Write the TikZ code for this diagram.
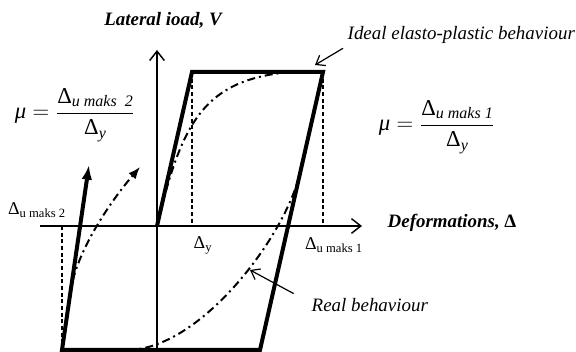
\documentclass[tikz,border=0pt]{standalone}
\usepackage{amsmath}
\usepackage{fontspec}
\setmainfont{Liberation Serif}
\usetikzlibrary{positioning,arrows.meta}
\tikzset{
  axis/.style={line width=1.1pt,-{Straight Barb[length=7pt,width=11pt]}},
  ideal/.style={line width=3pt,line join=miter},
  guide/.style={dash pattern=on 3pt off 2pt,line width=0.9pt},
  realpath/.style={line width=1.5pt,dash pattern=on 6pt off 3pt on 1.5pt off 3pt},
  pointer/.style={line width=0.9pt,-{Straight Barb[length=6pt,width=9pt]}},
  lbl/.style={font=\fontsize{14.2}{17}\selectfont\itshape},
  boldlbl/.style={font=\fontsize{14.2}{17}\selectfont\bfseries\itshape},
  dlbl/.style={font=\fontsize{13.5}{16}\selectfont},
  mulbl/.style={font=\fontsize{17}{20}\selectfont},
}
\newcommand{\musub}[1]{\text{\fontsize{12}{14}\selectfont\itshape #1}}

\begin{document}
\begin{tikzpicture}[x=0.75pt,y=0.75pt]
  \useasboundingbox (0,0) rectangle (576,352);
  % corners of the ideal loop
  \coordinate (o) at (157,126);
  \coordinate (ya) at (192,280);
  \coordinate (yb) at (323,280);
  \coordinate (ub) at (260,2);
  \coordinate (ua) at (62,2);
  \coordinate (ue) at (89,187);
  % axes
  \coordinate (hstart) at (40,126);
  \coordinate (hend) at (362,126);
  \coordinate (vstart) at (157,0);
  \coordinate (vend) at (157,302);
  \draw[axis] (hstart) -- (hend);
  \draw[axis] (vstart) -- (vend);
  % projections
  \draw[guide] (ya) -- (ya |- o);
  \draw[guide] (yb) -- (yb |- o);
  \draw[guide] (ua) -- (ua |- o);
  % ideal elasto-plastic loop
  \draw[ideal,-{Latex[length=11pt,width=8pt]}] (o) -- (ya) -- (yb) -- (ub) -- (ua) -- (ue);
  % real behaviour
  \draw[realpath,-{Latex[length=9pt,width=7pt]}] (o) .. controls (182,232) and (205,272) .. (290,280)
    -- (yb) -- (300,179) .. controls (285,115) and (200,2) .. (127,2)
    -- (ua) -- (70.5,60) .. controls (76,100) and (110,150) .. (140,185);
  % labels
  \node[boldlbl] (vlabel) at (163,332) {Lateral ioad, V};
  \node[boldlbl,anchor=west] (hlabel) at (383,129) {Deformations, {\upshape Δ}};
  \node[lbl,anchor=west] (ideal) at (343,317) {Ideal elasto-plastic behaviour};
  \node[lbl,anchor=west] (real) at (307,47) {Real behaviour};
  \node[dlbl] (dy) at (203,107) {Δ\textsubscript{y}};
  \node[dlbl] (du1) at (334,107) {Δ\textsubscript{u maks 1}};
  \node[dlbl] (du2) at (37,142) {Δ\textsubscript{u maks 2}};
  \node[mulbl] (mu1) at (437,225)
    {$\text{\textit{μ}} = \dfrac{\text{Δ}_{\musub{u maks 1}}}{\text{Δ}_{\musub{y}}}$};
  \node[mulbl] (mu2) at (75,237)
    {$\text{\textit{μ}} = \dfrac{\text{Δ}_{\musub{u maks\ \ 2}}}{\text{Δ}_{\musub{y}}}$};
  % pointers
  \coordinate (idealtip) at (315,287);
  \coordinate (realtip) at (250,82);
  \draw[pointer] (ideal.south west) -- (idealtip);
  \draw[pointer] ([xshift=-10pt]real.north west) -- (realtip);
\end{tikzpicture}
\end{document}
